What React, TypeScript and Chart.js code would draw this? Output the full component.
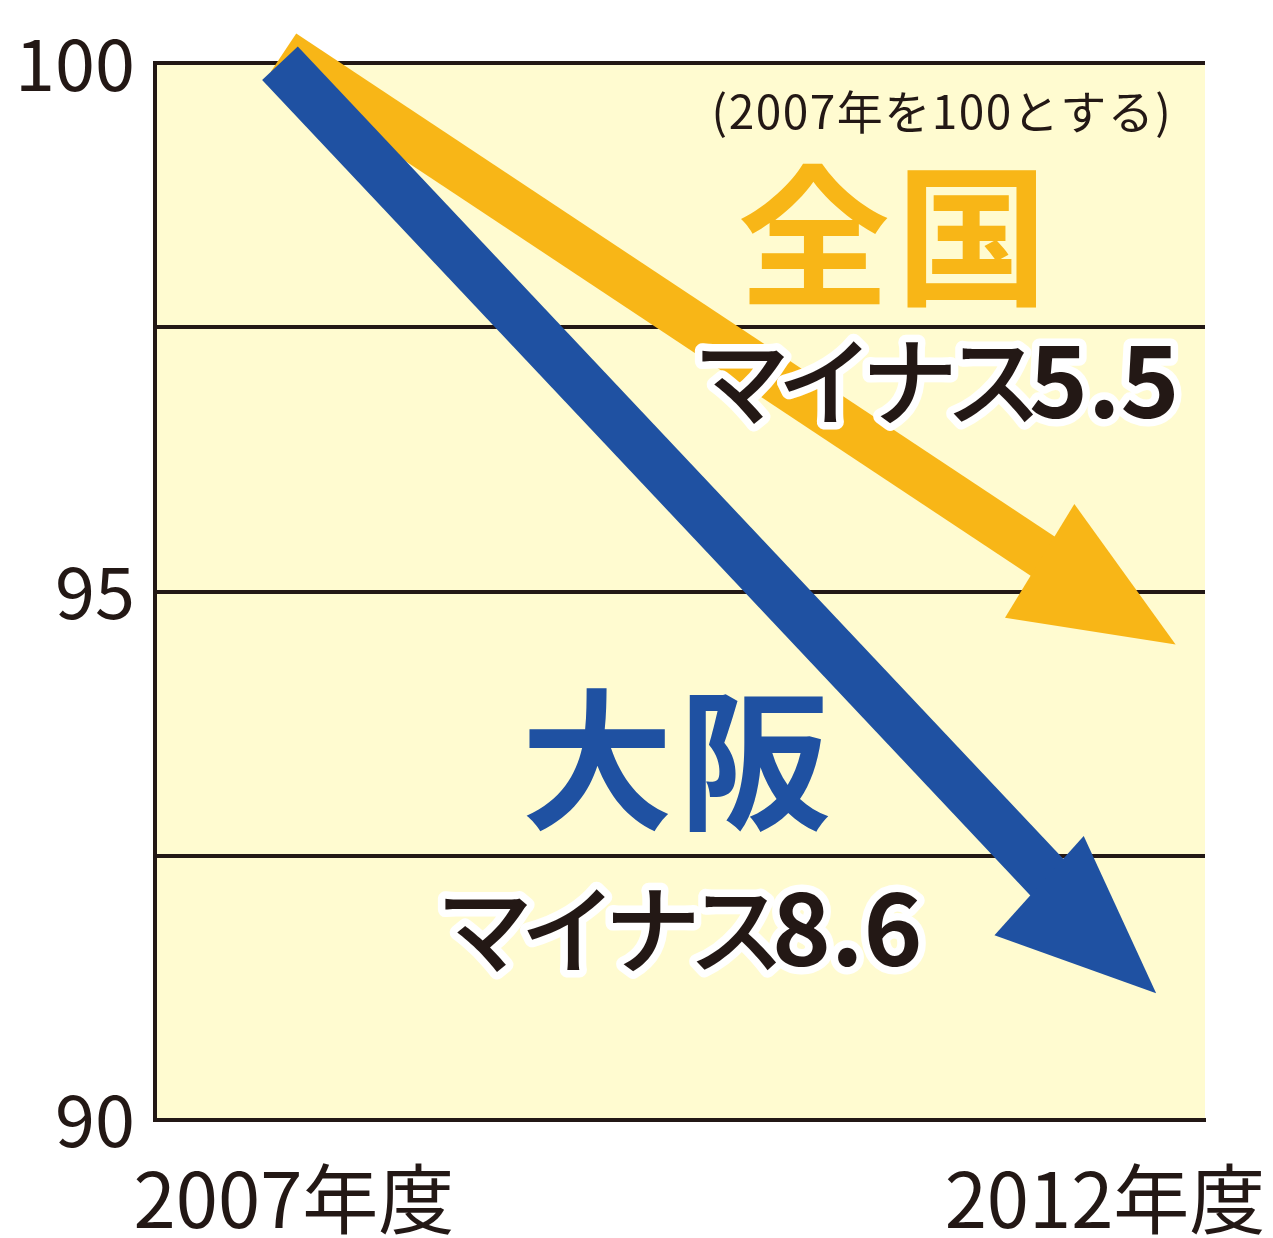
import React, { useEffect, useRef } from 'react';
import { Chart, registerables } from 'chart.js';

Chart.register(...registerables);

// ---- data ----
const xYears = [2007, 2012];
const xLabels = ['2007年度', '2012年度'];
const zenkokuX = [2007.02, 2012.06];
const zenkokuY = [100.1, 94.5];
const osakaX = [2007, 2011.95];
const osakaY = [100, 91.2];
const yTicks = [90, 92.5, 95, 97.5, 100];
const yTickLabels = ['90', '', '95', '', '100'];
const zenkokuName = '全国';
const osakaName = '大阪';
const zenkokuChange = ['マイナス', '5.5'];
const osakaChange = ['マイナス', '8.6'];
const noteText = '(2007年を100とする)';

// ---- styles ----
const W = 1273;
const H = 1238;
const INK = '#231815';
const YELLOW = '#F8B617';
const BLUE = '#1F51A2';
const PLOT_BG = '#FFFBD0';
const FONT = "'Noto Sans CJK JP', 'Noto Sans', sans-serif";
const X_MIN = 2006.294;
const X_MAX = 2012.226;

type ArrowStyle = { color: string; width: number; l1: number; w1: number; l2: number; w2: number };
const arrowStyles: ArrowStyle[] = [
  { color: YELLOW, width: 46, l1: 162, w1: 61, l2: 157, w2: 72 },
  { color: BLUE, width: 49, l1: 164, w1: 55, l2: 153, w2: 78 },
];

const bgPlugin = {
  id: 'plotBg',
  beforeDraw(chart: any) {
    const { ctx, chartArea } = chart;
    ctx.save();
    ctx.fillStyle = '#ffffff';
    ctx.fillRect(0, 0, chart.width, chart.height);
    ctx.fillStyle = PLOT_BG;
    ctx.fillRect(chartArea.left, chartArea.top, chartArea.right - chartArea.left, chartArea.bottom - chartArea.top);
    ctx.restore();
  },
};

const arrowPlugin = {
  id: 'arrows',
  afterDatasetsDraw(chart: any) {
    const ctx = chart.ctx;
    ctx.save();
    chart.data.datasets.forEach((_: any, di: number) => {
      const meta = chart.getDatasetMeta(di);
      const st = arrowStyles[di];
      const S = meta.data[0];
      const T = meta.data[1];
      const dx = T.x - S.x;
      const dy = T.y - S.y;
      const len = Math.hypot(dx, dy);
      const ux = dx / len;
      const uy = dy / len;
      const nx = -uy;
      const ny = ux;
      const hw = st.width / 2;
      const shaftEnd = Math.min(st.l1, st.l2) - 20;
      const ex = T.x - ux * shaftEnd;
      const ey = T.y - uy * shaftEnd;
      ctx.fillStyle = st.color;
      // shaft
      ctx.beginPath();
      ctx.moveTo(S.x + nx * hw, S.y + ny * hw);
      ctx.lineTo(ex + nx * hw, ey + ny * hw);
      ctx.lineTo(ex - nx * hw, ey - ny * hw);
      ctx.lineTo(S.x - nx * hw, S.y - ny * hw);
      ctx.closePath();
      ctx.fill();
      // head
      ctx.beginPath();
      ctx.moveTo(T.x, T.y);
      ctx.lineTo(T.x - ux * st.l1 - nx * st.w1, T.y - uy * st.l1 - ny * st.w1);
      ctx.lineTo(T.x - ux * st.l2 + nx * st.w2, T.y - uy * st.l2 + ny * st.w2);
      ctx.closePath();
      ctx.fill();
    });
    ctx.restore();
  },
};

function drawParts(
  ctx: CanvasRenderingContext2D,
  parts: { text: string; font: string; spacing: number }[],
  x: number,
  y: number,
  fill: string,
  halo: number
) {
  let cx = x;
  const pos: number[] = [];
  parts.forEach((p) => {
    ctx.font = p.font;
    (ctx as any).letterSpacing = p.spacing + 'px';
    pos.push(cx);
    cx += ctx.measureText(p.text).width;
  });
  ctx.textAlign = 'left';
  ctx.textBaseline = 'alphabetic';
  if (halo > 0) {
    ctx.strokeStyle = '#ffffff';
    ctx.lineWidth = halo;
    ctx.lineJoin = 'round';
    parts.forEach((p, i) => {
      ctx.font = p.font;
      (ctx as any).letterSpacing = p.spacing + 'px';
      ctx.strokeText(p.text, pos[i], y);
    });
  }
  ctx.fillStyle = fill;
  parts.forEach((p, i) => {
    ctx.font = p.font;
    (ctx as any).letterSpacing = p.spacing + 'px';
    ctx.fillText(p.text, pos[i], y);
  });
  (ctx as any).letterSpacing = '0px';
}

const textPlugin = {
  id: 'texts',
  afterDraw(chart: any) {
    const ctx: CanvasRenderingContext2D = chart.ctx;
    const xs = chart.scales.x;
    ctx.save();
    // note
    ctx.font = `400 46px ${FONT}`;
    (ctx as any).letterSpacing = '1.5px';
    ctx.fillStyle = INK;
    ctx.textAlign = 'center';
    ctx.textBaseline = 'alphabetic';
    ctx.fillText(noteText, 942, 129);

    // names
    ctx.font = `700 152px ${FONT}`;
    (ctx as any).letterSpacing = '6px';
    ctx.fillStyle = YELLOW;
    ctx.textAlign = 'center';
    ctx.fillText(zenkokuName, 896, 294);
    ctx.fillStyle = BLUE;
    ctx.fillText(osakaName, 679, 818);
    (ctx as any).letterSpacing = '0px';

    // change labels
    const kanaFont = `500 97px ${FONT}`;
    const digitFont = `700 100px ${FONT}`;
    drawParts(
      ctx,
      [
        { text: zenkokuChange[0], font: kanaFont, spacing: -13 },
        { text: zenkokuChange[1], font: digitFont, spacing: 0 },
      ],
      693,
      418,
      INK,
      15
    );
    drawParts(
      ctx,
      [
        { text: osakaChange[0], font: kanaFont, spacing: -13 },
        { text: osakaChange[1], font: digitFont, spacing: 0 },
      ],
      436,
      966,
      INK,
      15
    );

    // x labels
    ctx.font = `400 76px ${FONT}`;
    ctx.fillStyle = INK;
    ctx.textAlign = 'center';
    ctx.textBaseline = 'alphabetic';
    ctx.fillText(xLabels[0], xs.getPixelForValue(xYears[0]) + 14, 1228);
    ctx.fillText(xLabels[1], xs.getPixelForValue(xYears[1]) - 60, 1228);
    ctx.restore();
  },
};

export default function App() {
  const ref = useRef<HTMLCanvasElement | null>(null);
  useEffect(() => {
    document.body.style.margin = '0';
    const canvas = ref.current;
    if (!canvas) return;
    const chart = new Chart(canvas, {
      type: 'line',
      data: {
        datasets: [
          {
            label: zenkokuName,
            data: zenkokuX.map((x, i) => ({ x, y: zenkokuY[i] })),
            borderColor: YELLOW,
            backgroundColor: YELLOW,
            showLine: false,
            pointRadius: 0,
          },
          {
            label: osakaName,
            data: osakaX.map((x, i) => ({ x, y: osakaY[i] })),
            borderColor: BLUE,
            backgroundColor: BLUE,
            showLine: false,
            pointRadius: 0,
          },
        ],
      },
      options: {
        responsive: false,
        animation: false,
        devicePixelRatio: 1,
        layout: { padding: { top: 63, right: 68, left: 0, bottom: 0 } },
        plugins: { legend: { display: false }, tooltip: { enabled: false } },
        scales: {
          x: {
            type: 'linear',
            min: X_MIN,
            max: X_MAX,
            grid: { display: false },
            border: { display: true, color: INK, width: 4 },
            ticks: { display: false },
            afterFit: (s: any) => {
              s.height = 118;
            },
          },
          y: {
            type: 'linear',
            min: 90,
            max: 100,
            afterBuildTicks: (s: any) => {
              s.ticks = yTicks.map((v) => ({ value: v }));
            },
            ticks: {
              autoSkip: false,
              padding: 20,
              color: INK,
              font: { family: FONT, size: 72, weight: 'normal' },
              callback: (v: any) => {
                const i = yTicks.indexOf(Number(v));
                return i >= 0 ? yTickLabels[i] : '';
              },
            },
            grid: { color: INK, lineWidth: 4, drawTicks: false },
            border: { display: true, color: INK, width: 4 },
            afterFit: (s: any) => {
              s.width = 155;
            },
          },
        },
      } as any,
      plugins: [bgPlugin, arrowPlugin, textPlugin],
    });
    return () => chart.destroy();
  }, []);
  return <canvas ref={ref} width={W} height={H} style={{ display: 'block', width: W, height: H }} />;
}
